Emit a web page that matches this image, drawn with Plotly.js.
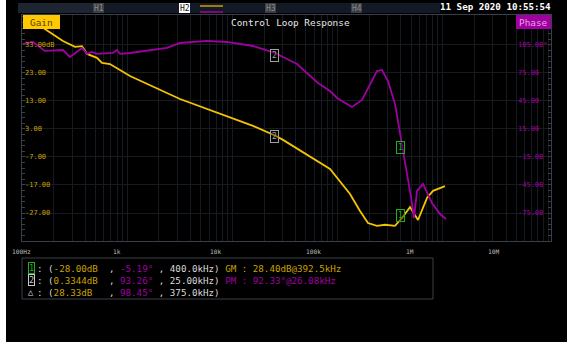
<!DOCTYPE html>
<html>
<head>
<meta charset="utf-8">
<script src="https://cdn.plot.ly/plotly-3.0.1.min.js"></script>
<style>html,body{margin:0;padding:0;background:#000;}#chart{width:567px;height:342px;}</style>
</head>
<body>
<div id="chart"></div>
<script>
// ---- data ----
const gainFreqHz = [119, 165, 245, 319, 372, 415, 516, 576, 686, 1063, 3177, 5737, 15700, 25970, 30270, 84700, 105400, 131200, 163300, 194500, 236800, 282200, 351200, 409500, 487700, 544100, 581000, 707700, 807000, 1049000];
const gainDb = [42.6, 38.7, 34.4, 32.3, 32.6, 29.8, 28.4, 26.6, 26.2, 21.9, 13.7, 10.1, 4.1, 0.5, -0.9, -11.3, -15.6, -20.2, -26.3, -30.6, -31.6, -31.2, -31.6, -28.8, -24.9, -28.1, -29.5, -21.6, -19.1, -17.4];
const phaseFreqHz = [102, 127, 165, 245, 286, 319, 372, 415, 463, 516, 733, 800, 854, 1063, 1759, 2389, 3177, 5737, 8887, 15700, 25400, 41100, 65100, 84700, 98700, 137000, 170600, 203200, 236800, 264200, 301300, 351200, 385000, 440000, 500000, 532200, 568600, 648200, 723300, 789700, 940000, 1072000];
const phaseDeg = [106.1, 108.2, 98.6, 99.6, 92.1, 96.4, 101.8, 95.4, 97.5, 95.4, 96.4, 99.6, 95.4, 96.4, 99.6, 101.8, 107.1, 109.3, 108.2, 103.9, 96.4, 84.6, 64.3, 55.7, 48.2, 38.6, 46.1, 63.2, 77.1, 78.2, 66.4, 41.8, 15, -19.3, -58.9, -80.4, -51.4, -43.9, -54.6, -64.3, -76.1, -81.4];

const xTickHz = [100, 1000, 10000, 100000, 1000000, 10000000];
const xTickLabels = ['100Hz', '1k', '10k', '100k', '1M', '10M'];
const gainTicks = [33, 23, 13, 3, -7, -17, -27];
const phaseTicks = [105, 75, 45, 15, -15, -45, -75];

const markerIds = ['1', '2'];
const markerFreqHz = [400000, 25000];
const markerGainDb = [-28.00, 0.3344];
const markerPhaseDeg = [-5.19, 93.26];

const readoutIds = ['1', '2', '\u25B3'];
const readoutGain = ['-28.00dB', '0.3344dB', '28.33dB'];
const readoutPhase = ['-5.19\u00B0', '93.26\u00B0', '98.45\u00B0'];
const readoutFreq = ['400.0kHz', '25.00kHz', '375.0kHz'];
const readoutExtra = ['GM : 28.40dB@392.5kHz', 'PM : 92.33\u00B0@26.08kHz', ''];

const titleText = 'Control Loop Response';
const dateText = '11 Sep 2020 10:55:54';

// ---- layout helpers (pixel geometry) ----
const L = 22, R = 551, T = 15, B = 241;
const px = x => (x - L) / (R - L);
const py = y => (B - y) / (B - T);
const MONO = 'DejaVu Sans Mono, monospace';
const YEL = '#f5c400', PUR = '#a000a0', GRID = '#161b21', FRAME = '#37404a';
const WHITE = '#d8d8d8', LBLY = '#c9a000', GREEN = '#1fb01f';

const traces = [
  {x: gainFreqHz, y: gainDb, type: 'scatter', mode: 'lines', yaxis: 'y',
   line: {color: YEL, width: 1.8}, hoverinfo: 'skip'},
  {x: phaseFreqHz, y: phaseDeg, type: 'scatter', mode: 'lines', yaxis: 'y2',
   line: {color: PUR, width: 1.8}, hoverinfo: 'skip'}
];

const shapes = [];
const rect = (x0, x1, y0, y1, fill, line) => shapes.push({type: 'rect', xref: 'paper', yref: 'paper',
  x0: px(x0), x1: px(x1), y0: py(y1), y1: py(y0), fillcolor: fill || 'rgba(0,0,0,0)',
  line: line || {width: 0}, layer: 'above'});
// white strip at far left
shapes.push({type: 'rect', xref: 'paper', yref: 'paper', x0: px(0), x1: px(6), y0: py(342), y1: py(0),
  fillcolor: '#ffffff', line: {width: 0}, layer: 'below'});
// header bar
rect(18, 440, 3, 13, '#141a25');
rect(18, 93, 3, 13, '#1e2532');
rect(93, 104, 3, 13, '#3c3f44');
rect(179, 190, 3, 13, '#ffffff');
rect(265, 276, 3, 13, '#3c3f44');
rect(351, 362, 3, 13, '#3c3f44');
shapes.push({type: 'line', xref: 'paper', yref: 'paper', x0: px(200), x1: px(223), y0: py(6), y1: py(6), line: {color: '#c8a000', width: 1.5}});
shapes.push({type: 'line', xref: 'paper', yref: 'paper', x0: px(200), x1: px(223), y0: py(12), y1: py(12), line: {color: PUR, width: 1.5}});
// Gain / Phase boxes
rect(23, 60, 15, 29, '#ffc800');
rect(516, 551, 15, 29, PUR);
// readout box
rect(22, 433, 258, 299, null, {color: '#3a3f47', width: 1});

const ann = [];
const txt = (x, y, text, color, size, anchor, extra) => ann.push(Object.assign({
  xref: 'paper', yref: 'paper', x: px(x), y: py(y), text: text, showarrow: false,
  xanchor: anchor || 'left', yanchor: 'middle', borderpad: 0,
  font: {family: MONO, size: size, color: color}}, extra || {}));

// header texts
txt(98.5, 8, 'H1', '#8a8a8a', 8, 'center');
txt(184.5, 8, 'H2', '#111111', 8, 'center');
txt(270.5, 8, 'H3', '#8a8a8a', 8, 'center');
txt(356.5, 8, 'H4', '#8a8a8a', 8, 'center');
txt(552, 7, '<b>' + dateText + '</b>', '#ffffff', 9.2, 'right');
txt(290, 22, titleText, '#e6e6e6', 9.4, 'center');
txt(41.5, 22, 'Gain', '#5a4300', 9.4, 'center');
txt(533.5, 22, 'Phase', '#e6a0e6', 9.4, 'center');

// axis tick labels
gainTicks.forEach((v, i) => ann.push({xref: 'paper', yref: 'y', x: px(24), y: v, showarrow: false,
  xanchor: 'left', yanchor: 'middle', borderpad: 0,
  text: v.toFixed(2) + (i === 0 ? 'dB' : ''), font: {family: MONO, size: 7, color: LBLY}}));
phaseTicks.forEach((v, i) => ann.push({xref: 'paper', yref: 'y2', x: px(517), y: v, showarrow: false,
  xanchor: 'left', yanchor: 'middle', borderpad: 0,
  text: v.toFixed(2) + (i === 0 ? '\u00B0' : ''), font: {family: MONO, size: 7, color: PUR}}));
const xLabelCenters = [21, 117, 215, 313, 410, 493];
xTickLabels.forEach((t, i) => txt(xLabelCenters[i], 251, t, '#bdbdbd', 6.2, 'center'));

// chart markers
const markerColors = [GREEN, '#a0a0a0'];
markerIds.forEach((id, i) => {
  const common = {xref: 'x', x: Math.log10(markerFreqHz[i]), showarrow: false, text: id,
    xanchor: 'center', yanchor: 'middle', borderpad: 1, borderwidth: 1,
    bordercolor: markerColors[i], bgcolor: 'rgba(0,0,0,0.35)',
    font: {family: MONO, size: 8, color: markerColors[i]}};
  ann.push(Object.assign({yref: 'y', y: markerGainDb[i]}, common));
  ann.push(Object.assign({yref: 'y2', y: markerPhaseDeg[i]}, common));
});

// readout lines
const NB = '\u00a0';
const CW = 5.54;
const pad = (s, n) => s + NB.repeat(Math.max(0, n - s.length));
const span = (s, c) => '<span style="color:' + c + '">' + s + '</span>';
const lineY = [268, 280, 292];
readoutIds.forEach((id, i) => {
  const extraColor = i === 0 ? LBLY : PUR;
  const t = span(':' + NB + '(', WHITE) + span(pad(readoutGain[i], 10), LBLY) + span(',' + NB, WHITE) +
    span(pad(readoutPhase[i], 7), PUR) + span(',' + NB + readoutFreq[i] + ')' + NB, WHITE) +
    span(readoutExtra[i].replace(/ /g, NB), extraColor);
  txt(29 + CW + 1, lineY[i], t, WHITE, 9.2, 'left');
  const boxColor = i === 0 ? GREEN : '#c8c8c8';
  if (i < 2) {
    txt(31.3, lineY[i], id, boxColor, 8.6, 'center', {borderpad: 0, borderwidth: 1, bordercolor: boxColor});
  } else {
    txt(31.3, lineY[i], id, '#e0e0e0', 8.6, 'center');
  }
});

const layout = {
  width: 567, height: 342,
  margin: {l: L, r: 567 - R, t: T, b: 342 - B, pad: 0},
  paper_bgcolor: '#000000', plot_bgcolor: '#000000',
  showlegend: false,
  xaxis: {type: 'log', range: [2, 2 + (R - L) / 105.2], dtick: 'D1', showticklabels: false,
    showgrid: true, gridcolor: GRID, gridwidth: 1, zeroline: false,
    showline: true, linecolor: FRAME, linewidth: 1, mirror: true, ticks: ''},
  yaxis: {range: [-37, 43.7], tickvals: gainTicks, showticklabels: false, showgrid: true,
    gridcolor: GRID, zeroline: false, showline: true, linecolor: FRAME, linewidth: 1, ticks: '',
    minor: {ticks: 'inside', ticklen: 3, tick0: -37, dtick: 2, tickcolor: FRAME, showgrid: false}},
  yaxis2: {range: [-105, 137.1], overlaying: 'y', side: 'right', showgrid: false, zeroline: false,
    showticklabels: false, showline: true, linecolor: FRAME, linewidth: 1, tickvals: phaseTicks, ticks: '',
    minor: {ticks: 'inside', ticklen: 3, tick0: -105, dtick: 6, tickcolor: FRAME, showgrid: false}},
  shapes: shapes,
  annotations: ann
};

Plotly.newPlot('chart', traces, layout, {staticPlot: true, displayModeBar: false});
</script>
</body>
</html>
